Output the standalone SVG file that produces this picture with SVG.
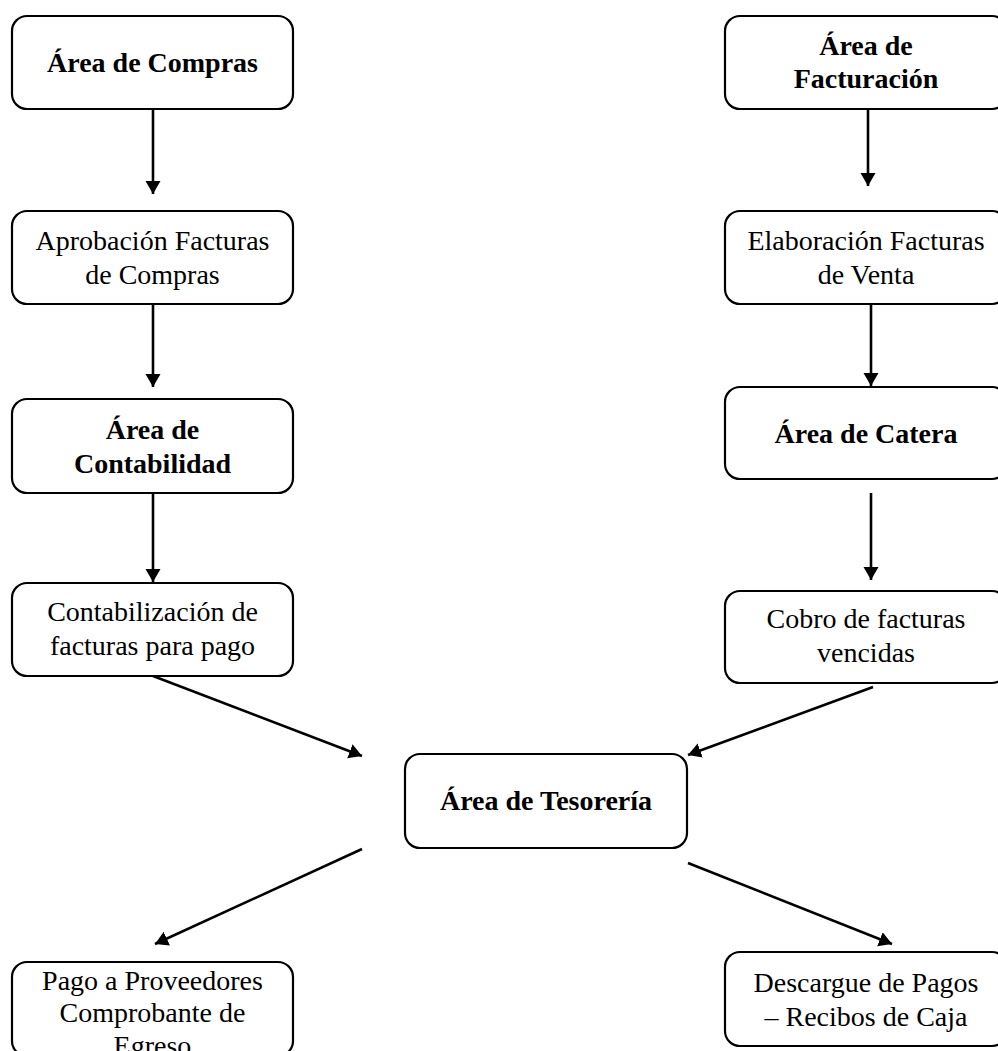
<svg xmlns="http://www.w3.org/2000/svg" width="998" height="1051" viewBox="0 0 998 1051">
<style>
.box{fill:#fff;stroke:#000;stroke-width:2.2}
.t{font-family:"Liberation Serif","Times New Roman",serif;font-size:28px;fill:#000;text-anchor:middle}
.b{font-weight:bold}
.c{stroke:#000;stroke-width:2.6;fill:none;marker-end:url(#ah)}
</style>
<defs>
<marker id="ah" markerUnits="userSpaceOnUse" markerWidth="16" markerHeight="16" viewBox="0 0 16 16" refX="13" refY="8" orient="auto">
<path d="M0,0.5 L13,8 L0,15.5 Z" fill="#000"/>
</marker>
</defs>
<rect width="998" height="1051" fill="#fff"/>
<g id="connectors">
<line class="c" x1="153" y1="109" x2="153" y2="194"/>
<line class="c" x1="868" y1="109" x2="868" y2="186"/>
<line class="c" x1="153" y1="304" x2="153" y2="387"/>
<line class="c" x1="871" y1="304" x2="871" y2="386"/>
<line class="c" x1="153" y1="493" x2="153" y2="582"/>
<line class="c" x1="871" y1="493" x2="871" y2="580"/>
<line class="c" x1="153" y1="676" x2="362" y2="756"/>
<line class="c" x1="873" y1="687" x2="688" y2="755"/>
<line class="c" x1="362" y1="849" x2="155" y2="944"/>
<line class="c" x1="688" y1="863" x2="892" y2="944"/>
</g>
<g id="n-compras"><rect class="box" x="12" y="16" width="281" height="93" rx="15"/><text class="t b" x="152.5" y="72">Área de Compras</text></g>
<g id="n-aprobacion"><rect class="box" x="12" y="211" width="281" height="93" rx="15"/><text class="t" x="152.5" y="250">Aprobación Facturas</text><text class="t" x="152.5" y="284">de Compras</text></g>
<g id="n-contabilidad"><rect class="box" x="12" y="399" width="281" height="94" rx="15"/><text class="t b" x="152.5" y="439">Área de</text><text class="t b" x="152.5" y="473">Contabilidad</text></g>
<g id="n-contabilizacion"><rect class="box" x="12" y="583" width="281" height="93" rx="15"/><text class="t" x="152.5" y="621">Contabilización de</text><text class="t" x="152.5" y="655">facturas para pago</text></g>
<g id="n-facturacion"><rect class="box" x="725" y="16" width="282" height="93" rx="15"/><text class="t b" x="866" y="55">Área de</text><text class="t b" x="866" y="88">Facturación</text></g>
<g id="n-elaboracion"><rect class="box" x="725" y="211" width="282" height="93" rx="15"/><text class="t" x="866" y="250">Elaboración Facturas</text><text class="t" x="866" y="284">de Venta</text></g>
<g id="n-catera"><rect class="box" x="725" y="387" width="282" height="92" rx="15"/><text class="t b" x="866" y="443">Área de Catera</text></g>
<g id="n-cobro"><rect class="box" x="725" y="591" width="282" height="92" rx="15"/><text class="t" x="866" y="628">Cobro de facturas</text><text class="t" x="866" y="662">vencidas</text></g>
<g id="n-tesoreria"><rect class="box" x="405" y="754" width="282" height="94" rx="15"/><text class="t b" x="546" y="810">Área de Tesorería</text></g>
<g id="n-pago"><rect class="box" x="12" y="962" width="281" height="94" rx="15"/><text class="t" x="152.5" y="990">Pago a Proveedores</text><text class="t" x="152.5" y="1022">Comprobante de</text><text class="t" x="152.5" y="1055">Egreso</text></g>
<g id="n-descargue"><rect class="box" x="725" y="952" width="282" height="94" rx="15"/><text class="t" x="866" y="992">Descargue de Pagos</text><text class="t" x="866" y="1026">– Recibos de Caja</text></g>
</svg>
